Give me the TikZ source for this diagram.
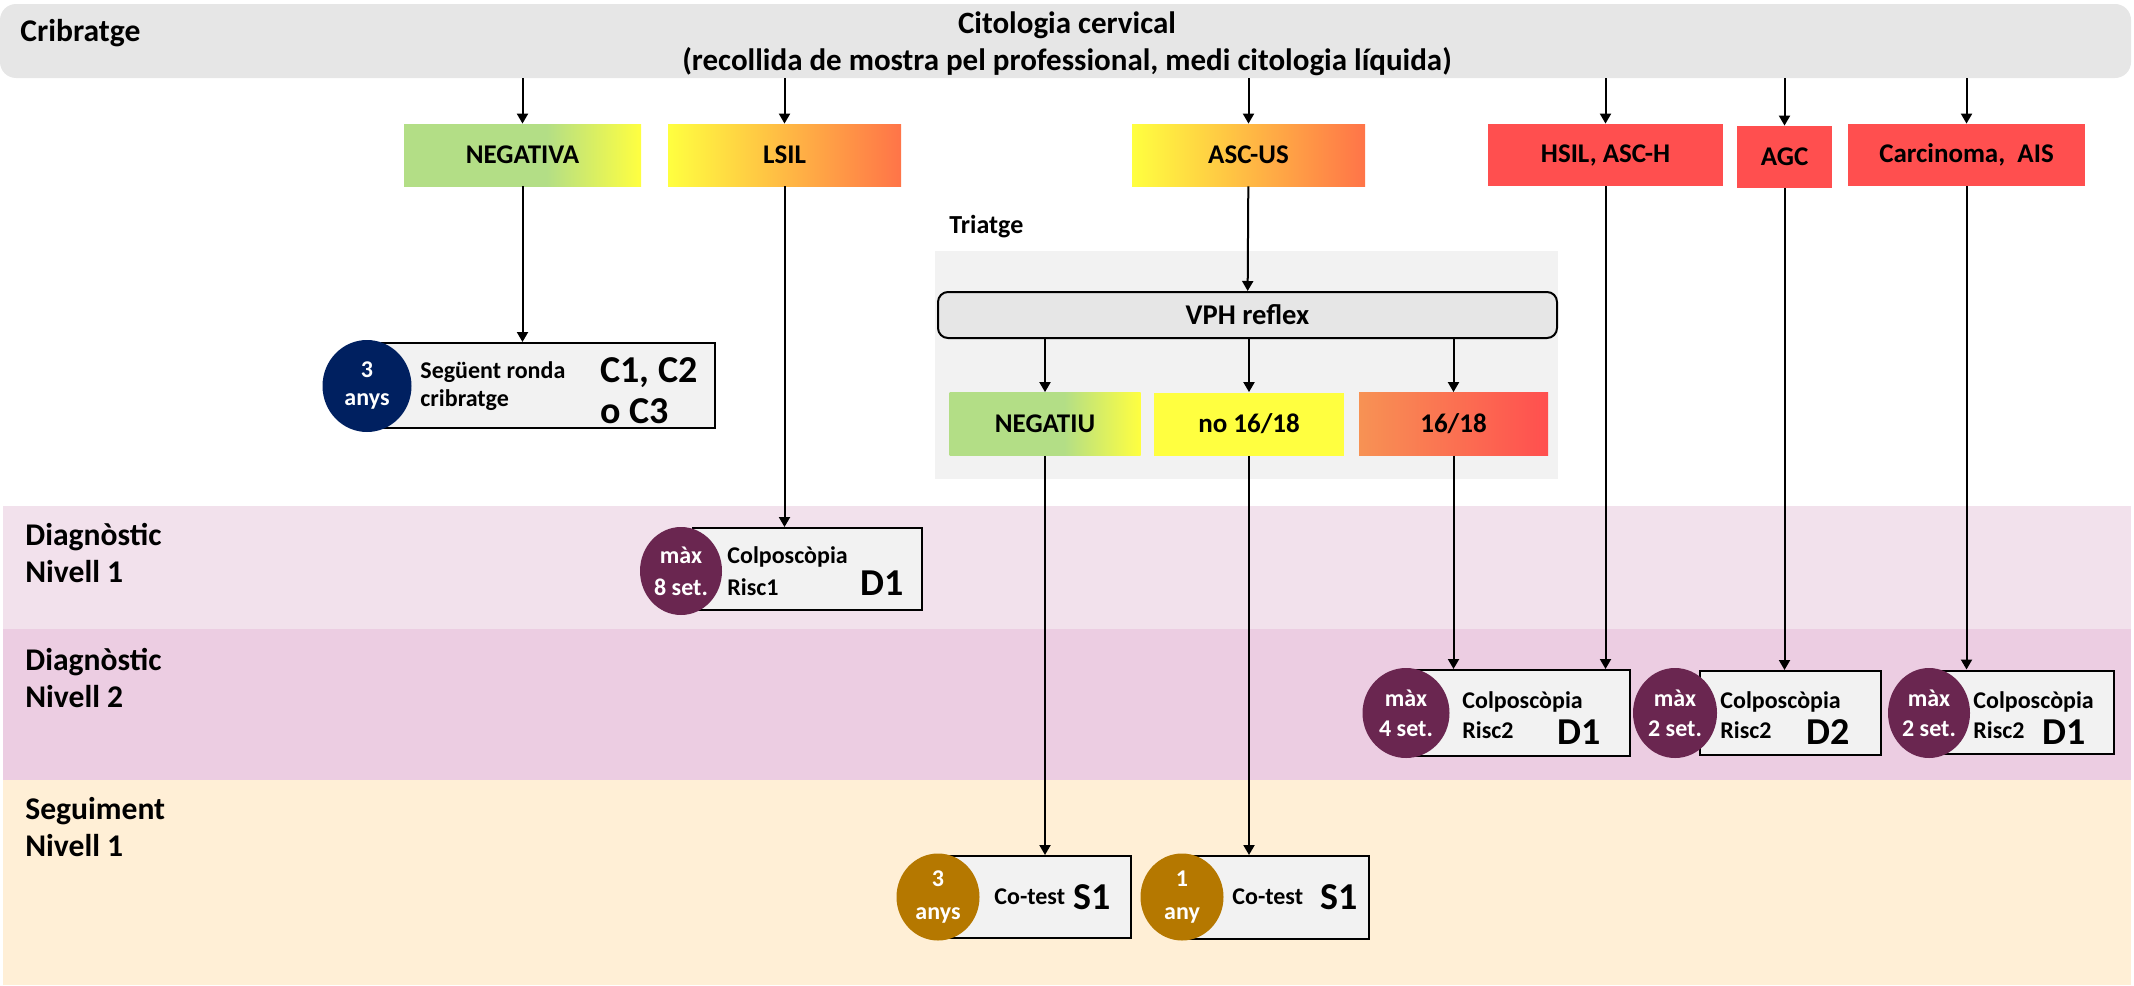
\documentclass[tikz,border=0pt]{standalone}
\usepackage{fontspec}
\setmainfont{Carlito}
\usetikzlibrary{positioning}
\usetikzlibrary{shapes.geometric}
\usetikzlibrary{arrows.meta}
\usepackage{xcolor}

\definecolor{bannergray}{HTML}{E6E6E6}
\definecolor{triagegray}{HTML}{F2F2F2}
\definecolor{boxgray}{HTML}{F2F2F2}
\definecolor{okgreen}{HTML}{B3DE86}
\definecolor{lowyellow}{HTML}{FFFF40}
\definecolor{lsilorange}{HTML}{FF7448}
\definecolor{hotred}{HTML}{FF4F4F}
\definecolor{peach}{HTML}{F79254}
\definecolor{navy}{HTML}{002060}
\definecolor{plum}{HTML}{6A2650}
\definecolor{ochre}{HTML}{B57800}
\definecolor{bandone}{HTML}{F2E1EC}
\definecolor{bandtwo}{HTML}{ECCDE2}
\definecolor{bandthree}{HTML}{FFEFD6}

\pgfdeclarehorizontalshading{negshade}{100bp}{color(0bp)=(okgreen); color(25bp)=(okgreen); color(55bp)=(okgreen); color(75bp)=(lowyellow); color(100bp)=(lowyellow)}

\tikzset{
  arr/.style={-{Triangle[length=5pt,width=5.5pt]}, line width=1pt},
  cat/.style={minimum height=31pt, inner sep=0pt, font=\fontsize{13.5}{15}\selectfont\bfseries},
  res/.style={draw, fill=boxgray, line width=1pt, inner sep=0pt},
  wait/.style={ellipse, inner sep=0pt, text=white, align=center, font=\fontsize{12}{#1}\selectfont\bfseries},
  txt/.style={anchor=west, inner sep=0pt, align=left, font=\fontsize{12}{#1}\selectfont\bfseries},
  code/.style={anchor=west, inner sep=0pt, align=left, font=\fontsize{19}{20.5}\selectfont\bfseries},
  lane/.style={anchor=west, inner sep=0pt, align=left, font=\fontsize{15.8}{18.5}\selectfont\bfseries}
}

\begin{document}
\begin{tikzpicture}[x=0.5pt, y=-0.5pt]
  \useasboundingbox (0,0) rectangle (2134,985);

  % bands
  \fill[bandone] (3,506) rectangle (2131,629);
  \fill[bandtwo] (3,629) rectangle (2131,780);
  \fill[bandthree] (3,780) rectangle (2131,985);
  \fill[triagegray] (935,251) rectangle (1558,479);

  \node[lane] (diag1) at (25,553) {Diagnòstic\\Nivell 1};
  \node[lane] (diag2) at (25,678) {Diagnòstic\\Nivell 2};
  \node[lane] (segui) at (25,827) {Seguiment\\Nivell 1};

  % cribratge
  \node[fill=bannergray, rounded corners=8pt, minimum width=1065.5pt, minimum height=37pt,
        inner sep=0pt] (cito) at (1065.5,41) {};
  \node[align=center, inner sep=0pt, font=\fontsize{15.5}{18.5}\selectfont\bfseries] (citotxt) at (1067,44)
        {Citologia cervical\\(recollida de mostra pel professional, medi citologia líquida)};
  \node[lane] (cribratge) at (20,33) {Cribratge};

  \node[cat, shade, shading=negshade, minimum width=118.5pt] (negativa) at (522.5,155) {NEGATIVA};
  \node[cat, left color=lowyellow, right color=lsilorange, minimum width=116.5pt] (lsil) at (784.5,155) {LSIL};
  \node[cat, left color=lowyellow, right color=lsilorange, minimum width=116.5pt] (ascus) at (1248.5,155) {ASC-US};
  \node[cat, fill=hotred, minimum width=117.5pt] (hsil) at (1605.5,155) {HSIL, ASC-H};
  \node[cat, fill=hotred, minimum width=47.5pt] (agc) at (1784.5,157) {AGC};
  \node[cat, fill=hotred, minimum width=118.5pt] (carc) at (1966.5,155) {Carcinoma,~ AIS};

  \foreach \n in {negativa, lsil, ascus, hsil, agc, carc}
    \draw[arr] (\n |- cito.south) -- (\n.north);

  % triatge
  \node[anchor=west, inner sep=0pt, font=\fontsize{13}{15}\selectfont\bfseries] (triatge) at (949,227) {Triatge};
  \node[draw, fill=bannergray, rounded corners=5pt, line width=1pt, minimum width=309.5pt, minimum height=23pt,
        inner sep=0pt, font=\fontsize{14.3}{15}\selectfont\bfseries] (vph) at (1247.5,315) {VPH reflex};
  \draw[arr] (ascus) -- (vph);

  \node[cat, shade, shading=negshade, minimum width=95.5pt, minimum height=31.5pt] (negatiu) at (1045,424) {NEGATIU};
  \node[cat, fill=lowyellow, minimum width=95pt, minimum height=31.5pt] (no1618) at (1249,424) {no 16/18};
  \node[cat, left color=peach, right color=hotred, minimum width=94.5pt, minimum height=31.5pt] (hpv1618) at (1453.5,424) {16/18};

  \foreach \n in {negatiu, no1618, hpv1618}
    \draw[arr] (vph.south -| \n) -- (\n.north);

  % seguent ronda
  \node[res, minimum width=166.5pt, minimum height=42.5pt] (cbox) at (548.5,385.5) {};
  \node[wait=14pt, fill=navy, minimum width=44.5pt, minimum height=46pt] (cyears) at (367,386) {3\\anys};
  \node[txt=14pt] (ctxt) at (420,386) {Següent ronda\\cribratge};
  \node[code] (ccode) at (600,391) {C1, C2\\o C3};
  \draw[arr] (negativa) -- (negativa |- cbox.north);

  % diagnostic nivell 1
  \node[res, minimum width=114.5pt, minimum height=41pt] (dbox1) at (807.5,569) {};
  \node[wait=16pt, fill=plum, minimum width=41pt, minimum height=44pt] (dwait1) at (681,571) {màx\\8 set.};
  \node[txt=16pt] (dtxt1) at (727,571) {Colposcòpia\\Risc1};
  \node[code] (dcode1) at (860,583) {D1};
  \draw[arr] (lsil) -- (lsil |- dbox1.north);

  % diagnostic nivell 2
  \node[res, minimum width=107pt, minimum height=43pt] (dbox2) at (1523,713) {};
  \node[wait=15pt, fill=plum, minimum width=43.5pt, minimum height=45pt] (dwait2) at (1406,713) {màx\\4 set.};
  \node[txt=15pt] (dtxt2) at (1462,715) {Colposcòpia\\Risc2};
  \node[code] (dcode2) at (1557,732) {D1};

  \node[res, minimum width=90.5pt, minimum height=42pt] (dbox3) at (1790.5,713) {};
  \node[wait=15pt, fill=plum, minimum width=42pt, minimum height=45pt] (dwait3) at (1675,713) {màx\\2 set.};
  \node[txt=15pt] (dtxt3) at (1720,715) {Colposcòpia\\Risc2};
  \node[code] (dcode3) at (1806,732) {D2};

  \node[res, minimum width=92pt, minimum height=41.5pt] (dbox4) at (2022,712) {};
  \node[wait=15pt, fill=plum, minimum width=41pt, minimum height=45pt] (dwait4) at (1929,713) {màx\\2 set.};
  \node[txt=15pt] (dtxt4) at (1973,715) {Colposcòpia\\Risc2};
  \node[code] (dcode4) at (2042,732) {D1};

  \draw[arr] (hpv1618) -- (hpv1618 |- dbox2.north);
  \draw[arr] (hsil) -- (hsil |- dbox2.north);
  \draw[arr] (agc) -- (agc |- dbox3.north);
  \draw[arr] (carc) -- (carc |- dbox4.north);

  % seguiment
  \node[res, minimum width=96pt, minimum height=41pt] (sbox1) at (1035,897) {};
  \node[wait=16.5pt, fill=ochre, minimum width=41.5pt, minimum height=43.5pt] (syears1) at (938,897) {3\\anys};
  \node[txt=14pt] (stxt1) at (994,897) {Co-test};
  \node[code] (scode1) at (1073,897) {S1};

  \node[res, minimum width=92.5pt, minimum height=41.5pt] (sbox2) at (1276.5,897.5) {};
  \node[wait=16.5pt, fill=ochre, minimum width=41.5pt, minimum height=43.5pt] (syears2) at (1182,897) {1\\any};
  \node[txt=14pt] (stxt2) at (1232,897) {Co-test};
  \node[code] (scode2) at (1320,897) {S1};

  \draw[arr] (negatiu) -- (negatiu |- sbox1.north);
  \draw[arr] (no1618) -- (no1618 |- sbox2.north);
\end{tikzpicture}
\end{document}
